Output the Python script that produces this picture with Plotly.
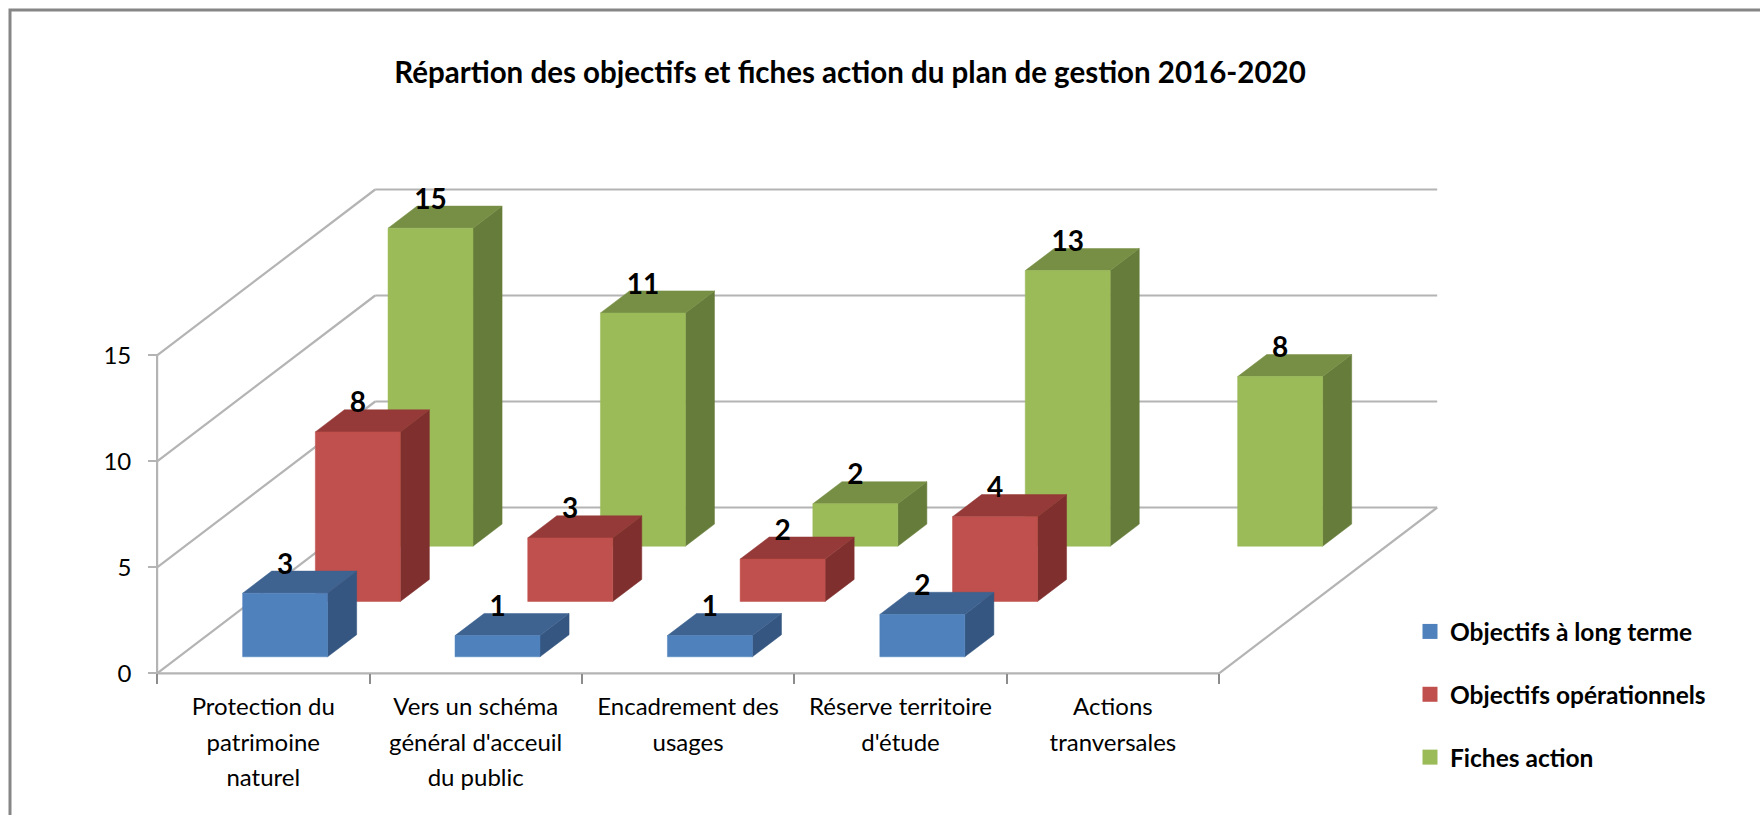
import plotly.graph_objects as go

TITLE = "Répartion des objectifs et fiches action du plan de gestion 2016-2020"
CATEGORY_LINES = [
    ["Protection du", "patrimoine", "naturel"],
    ["Vers un schéma", "général d'acceuil", "du public"],
    ["Encadrement des", "usages"],
    ["Réserve territoire", "d'étude"],
    ["Actions", "tranversales"],
]
SERIES_NAMES = ["Objectifs à long terme", "Objectifs opérationnels", "Fiches action"]
LONG_TERME = [3, 1, 1, 2, None]
OPERATIONNELS = [8, 3, 2, 4, None]
FICHES = [15, 11, 2, 13, 8]
VALUE_TICKS = [0, 5, 10, 15]

SERIES_VALUES = [LONG_TERME, OPERATIONNELS, FICHES]
FRONT = ["#4F81BD", "#C0504D", "#9BBB59"]
TOP = ["#3E6390", "#953A38", "#778F45"]
SIDE = ["#345680", "#7F302E", "#667C3A"]
GRID = "#B4B4B4"
FONT = "Lato"

W, H = 1760, 815
ORIGIN_X, ORIGIN_Y = 157.1, 673.4
CAT_PX, VAL_PX = 212.4, 21.2
SHEAR_X, SHEAR_Y = 72.7 / CAT_PX, 55.3 / VAL_PX
N_CAT, N_DEPTH = len(FICHES), len(SERIES_VALUES)


def proj(c, v, d):
    """Oblique projection: category, value, depth -> axis coordinates."""
    return c + d * SHEAR_X, v + d * SHEAR_Y


def polys(faces):
    xs, ys = [], []
    for face in faces:
        pts = [proj(*p) for p in face]
        pts.append(pts[0])
        xs += [p[0] for p in pts] + [None]
        ys += [p[1] for p in pts] + [None]
    return xs, ys


def segs(pairs):
    xs, ys = [], []
    for a, b in pairs:
        pa, pb = proj(*a), proj(*b)
        xs += [pa[0], pb[0], None]
        ys += [pa[1], pb[1], None]
    return xs, ys


fig = go.Figure()

# Walls and floor
pairs = [((0, 0, 0), (0, VALUE_TICKS[-1], 0)), ((0, 0, 0), (N_CAT, 0, 0)), ((N_CAT, 0, 0), (N_CAT, 0, N_DEPTH))]
for v in VALUE_TICKS:
    pairs.append(((0, v, 0), (0, v, N_DEPTH)))
    pairs.append(((0, v, N_DEPTH), (N_CAT, v, N_DEPTH)))
gx, gy = segs(pairs)
fig.add_trace(go.Scatter(x=gx, y=gy, mode="lines", line=dict(color=GRID, width=2.2), showlegend=False, hoverinfo="skip"))

# Bars, back series first
BAR0, BAR1 = 0.3, 0.7
for s in reversed(range(N_DEPTH)):
    front, top, side = [], [], []
    for c, v in enumerate(SERIES_VALUES[s]):
        if v is None:
            continue
        l, r, n, f = c + BAR0, c + BAR1, s + BAR0, s + BAR1
        front.append([(l, 0, n), (r, 0, n), (r, v, n), (l, v, n)])
        top.append([(l, v, n), (r, v, n), (r, v, f), (l, v, f)])
        side.append([(r, 0, n), (r, 0, f), (r, v, f), (r, v, n)])
    for faces, col in ((side, SIDE[s]), (top, TOP[s]), (front, FRONT[s])):
        x, y = polys(faces)
        fig.add_trace(go.Scatter(x=x, y=y, mode="lines", fill="toself", fillcolor=col,
                                 line=dict(color=col, width=0.5), showlegend=False, hoverinfo="skip"))

# Data labels
LABEL_LIFT = 1.25
for s in reversed(range(N_DEPTH)):
    xs, ys, ts = [], [], []
    for c, v in enumerate(SERIES_VALUES[s]):
        if v is None:
            continue
        px_, py_ = proj(c + 0.5, v + LABEL_LIFT, s + BAR0)
        xs.append(px_); ys.append(py_); ts.append(str(v))
    fig.add_trace(go.Scatter(x=xs, y=ys, text=ts, mode="text", textposition="middle center",
                             textfont=dict(family=FONT, size=28, color="#000000", weight="bold"),
                             showlegend=False, hoverinfo="skip"))

# Category labels, one row per text line
LINE0, LINE_STEP = -1.68, -1.675
lx, ly, lt = [], [], []
for c, lines in enumerate(CATEGORY_LINES):
    for i, t in enumerate(lines):
        lx.append(c + 0.5); ly.append(LINE0 + i * LINE_STEP); lt.append(t)
fig.add_trace(go.Scatter(x=lx, y=ly, text=lt, mode="text", textposition="middle center",
                         textfont=dict(family=FONT, size=24, color="#000000"),
                         showlegend=False, hoverinfo="skip"))

# Legend
for name, col in zip(SERIES_NAMES, FRONT):
    fig.add_trace(go.Scatter(x=[None], y=[None], mode="markers", name=name, legendgroup=name,
                             marker=dict(symbol="square", size=15, color=col)))

fig.update_layout(
    width=W, height=H, margin=dict(l=0, r=0, t=0, b=0),
    paper_bgcolor="white", plot_bgcolor="white",
    title=dict(text=TITLE, x=850 / W, y=1 - 73 / H, xanchor="center", yanchor="middle",
               font=dict(family=FONT, size=29.5, color="#000000", weight="bold")),
    legend=dict(x=1410 / W, xanchor="left", y=1 - 609 / H, yanchor="top", tracegroupgap=28,
                bgcolor="rgba(0,0,0,0)", font=dict(family=FONT, size=24.5, color="#000000", weight="bold")),
    shapes=[dict(type="rect", xref="paper", yref="paper", x0=10 / W, x1=1.01, y0=-0.01, y1=1 - 10 / H,
                 line=dict(color="#868686", width=3))],
    xaxis=dict(range=[-ORIGIN_X / CAT_PX, (W - ORIGIN_X) / CAT_PX], domain=[0, 1],
               anchor="free", position=(H - ORIGIN_Y) / H, tickmode="array",
               tickvals=list(range(N_CAT + 1)), showticklabels=False, ticks="outside", ticklen=10,
               tickcolor="#8C8C8C", tickwidth=1.5, showgrid=False, zeroline=False, showline=False),
    yaxis=dict(range=[(ORIGIN_Y - H) / VAL_PX, ORIGIN_Y / VAL_PX], domain=[0, 1],
               anchor="free", position=ORIGIN_X / W, tickmode="array",
               tickvals=VALUE_TICKS, ticks="outside", ticklen=9, tickcolor=GRID, tickwidth=2,
               ticklabelstandoff=12, tickfont=dict(family=FONT, size=24, color="#000000"),
               showgrid=False, zeroline=False, showline=False),
)

fig.write_html("out.html", config=dict(displayModeBar=False),
               post_script="document.body.style.margin='0';document.body.style.overflow='hidden';")
